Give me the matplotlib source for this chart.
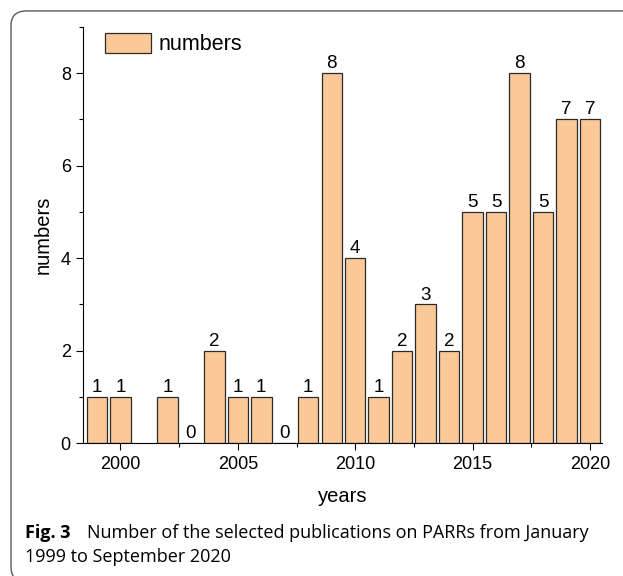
import matplotlib.pyplot as plt
from matplotlib import font_manager
from matplotlib.patches import FancyBboxPatch
from matplotlib.ticker import MultipleLocator

years = [1999, 2000, 2002, 2003, 2004, 2005, 2006, 2007, 2008, 2009, 2010,
         2011, 2012, 2013, 2014, 2015, 2016, 2017, 2018, 2019, 2020]
numbers = [1, 1, 1, 0, 2, 1, 1, 0, 1, 8, 4, 1, 2, 3, 2, 5, 5, 8, 5, 7, 7]

names = set(f.name for f in font_manager.fontManager.ttflist)
sans = 'DejaVu Sans'
for n in ['Liberation Sans', 'Arimo', 'Arial']:
    if n in names:
        sans = n
        break
cap = 'Open Sans' if 'Open Sans' in names else 'Noto Sans'
plt.rcParams['font.family'] = [sans, 'DejaVu Sans']

fig = plt.figure(figsize=(6.23, 5.76), dpi=100)

# rounded frame around the whole figure
frame = FancyBboxPatch((0.0177, -0.01), 1.2, 0.991, boxstyle='round,pad=0,rounding_size=0.025',
                       transform=fig.transFigure, fill=False, edgecolor='#5a5a5a', linewidth=1.0)
fig.patches.append(frame)

ax = fig.add_axes([0.1337, 0.2304, 0.8326, 0.7232])
bars = ax.bar(years, numbers, width=0.87, color='#fbc897', edgecolor='#2a2a2a', linewidth=0.9,
              label='numbers')
for x, v in zip(years, numbers):
    ax.text(x, v + 0.02, str(v), ha='center', va='bottom', fontsize=13.5)

ax.set_xlim(1998.42, 2020.51)
ax.set_ylim(0, 9)
ax.set_xticks([2000, 2005, 2010, 2015, 2020])
ax.xaxis.set_minor_locator(MultipleLocator(2.5))
ax.set_yticks([0, 2, 4, 6, 8])
ax.yaxis.set_minor_locator(MultipleLocator(1))
ax.spines['top'].set_visible(False)
ax.spines['right'].set_visible(False)
ax.tick_params(axis='both', which='major', labelsize=13, length=5, width=0.8, pad=4)
ax.tick_params(axis='both', which='minor', length=3, width=0.8)
ax.set_xlabel('years', fontsize=14.5, labelpad=10)
ax.set_ylabel('numbers', fontsize=14.5, labelpad=6)

ax.legend(loc='upper left', frameon=False, fontsize=15.5, handlelength=2.14, handleheight=1.07,
          handletextpad=0.33, borderpad=0, borderaxespad=0, bbox_to_anchor=(0.042, 0.985))

fig.text(0.040, 0.066, 'Fig. 3', fontsize=13, fontweight='bold', va='baseline',
         family=[cap, 'DejaVu Sans'])
fig.text(0.140, 0.066, 'Number of the selected publications on PARRs from January',
         fontsize=13, va='baseline', family=[cap, 'DejaVu Sans'])
fig.text(0.040, 0.0243, '1999 to September 2020', fontsize=13, va='baseline',
         family=[cap, 'DejaVu Sans'])

fig.savefig('out.png', dpi=100)
